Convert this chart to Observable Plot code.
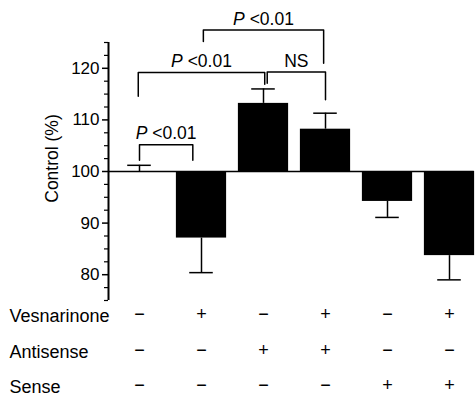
<!DOCTYPE html>
<html>
<head>
<meta charset="utf-8">
<script src="https://cdn.jsdelivr.net/npm/d3@7"></script>
<script src="https://cdn.jsdelivr.net/npm/@observablehq/plot@0.6"></script>
<style>
  html, body { margin: 0; padding: 0; background: #fff; }
  svg { font-family: "Liberation Sans", Arial, sans-serif; }
</style>
</head>
<body>
<div id="chart"></div>
<script>
// ---- data ----
const groups = ["1", "2", "3", "4", "5", "6"];
const values = [100, 87.1, 113.2, 108.2, 94.2, 83.7];
const errorEnds = [101.2, 80.4, 116.0, 111.3, 91.1, 79.0];
const rowLabels = ["Vesnarinone", "Antisense", "Sense"];
const vesnarinone = ["−", "+", "−", "+", "−", "+"];
const antisense = ["−", "−", "+", "+", "−", "−"];
const sense = ["−", "−", "−", "−", "+", "+"];
const yTicks = [80, 90, 100, 110, 120];
const bracketFrom = [0, 0, 2, 1];
const bracketTo = [1, 2, 3, 3];
const bracketLevel = [105.2, 119.2, 119.3, 127.4];
const bracketEndFrom = [102.2, 114.6, 117.1, 125.2];
const bracketEndTo = [102.2, 116.9, 113.9, 121.0];
const bracketLabel = ["P <0.01", "P <0.01", "NS", "P <0.01"];

// ---- build ----
const data = values.map((v, i) => ({i, v, e: errorEnds[i]}));
const halfBar = 0.405, halfCap = 0.19;
// small leg nudges (index units) so bracket legs sit where they do in the figure
const nudgeFrom = [0, -0.02, 0.06, 0.03];
const nudgeTo = [-0.14, 0.02, 0.0, -0.03];
const brackets = bracketFrom.map((f, k) => ({
  k, xa: f + nudgeFrom[k], xb: bracketTo[k] + nudgeTo[k],
  level: bracketLevel[k], ea: bracketEndFrom[k], eb: bracketEndTo[k], label: bracketLabel[k]
}));
const bracketPts = brackets.flatMap(b => [
  {k: b.k, x: b.xa, y: b.ea}, {k: b.k, x: b.xa, y: b.level},
  {k: b.k, x: b.xb, y: b.level}, {k: b.k, x: b.xb, y: b.eb}
]);
const minorTicks = d3.range(75, 125.01, 2.5).filter(t => !yTicks.includes(t));
const rows = [vesnarinone, antisense, sense];
const rowDy = [14, 50, 85];

const marks = [
  Plot.rectY(data, {x1: d => d.i - halfBar, x2: d => d.i + halfBar, y1: 100, y2: "v", fill: "black"}),
  Plot.ruleY([100], {x1: -0.5, x2: 5.4, stroke: "black", strokeWidth: 1.5}),
  Plot.ruleX(data, {x: "i", y1: "v", y2: "e", stroke: "black", strokeWidth: 1.5}),
  Plot.ruleY(data, {y: "e", x1: d => d.i - halfCap, x2: d => d.i + halfCap, stroke: "black", strokeWidth: 1.5}),
  Plot.ruleX([-0.5], {y1: 75, y2: 125, stroke: "black", strokeWidth: 2}),
  Plot.axisY({ticks: yTicks, tickSize: 6, tickPadding: 3, fontSize: 17, label: null, anchor: "left", stroke: "black", strokeWidth: 1.5, color: "black"}),
  Plot.axisY({ticks: minorTicks, tickSize: 4, tickFormat: () => "", label: null, anchor: "left", stroke: "black", strokeWidth: 1.2}),
  Plot.text(["Control (%)"], {frameAnchor: "left", dx: -56, dy: -13, rotate: -90, textAnchor: "middle", lineAnchor: "middle", fontSize: 17.5, fill: "black"}),
  Plot.line(bracketPts, {x: "x", y: "y", z: "k", stroke: "black", strokeWidth: 1.5}),
  Plot.text(brackets, {x: d => (d.xa + d.xb) / 2, y: "level", dy: -11, text: "label", fontSize: 17.5, fill: "black"}),
  ...rows.map((row, r) => Plot.text(row, {x: (d, i) => i, frameAnchor: "bottom", lineAnchor: "middle", dy: rowDy[r], text: d => d, fontSize: 18, fill: "black"})),
  ...rowLabels.map((lab, r) => Plot.text([lab], {frameAnchor: "bottom-left", lineAnchor: "middle", dx: -99, dy: rowDy[r] + 2, textAnchor: "start", fontSize: 18, fill: "black"}))
];

const plot = Plot.plot({
  width: 476,
  height: 397,
  marginTop: 42,
  marginBottom: 97,
  marginLeft: 108,
  marginRight: 0,
  x: {domain: [-0.5, 5.5], range: [108, 480], axis: null},
  y: {domain: [75, 125], range: [300, 42], axis: null},
  style: {fontFamily: "Liberation Sans, Arial, sans-serif", color: "black", background: "white"},
  marks
});

// italic P in significance labels
const ns = "http://www.w3.org/2000/svg";
plot.querySelectorAll("text").forEach(t => {
  if (t.textContent === "P <0.01") {
    t.textContent = "";
    const p = document.createElementNS(ns, "tspan");
    p.setAttribute("font-style", "italic");
    p.textContent = "P";
    t.append(p, " <0.01");
  }
});
document.getElementById("chart").append(plot);
</script>
</body>
</html>
